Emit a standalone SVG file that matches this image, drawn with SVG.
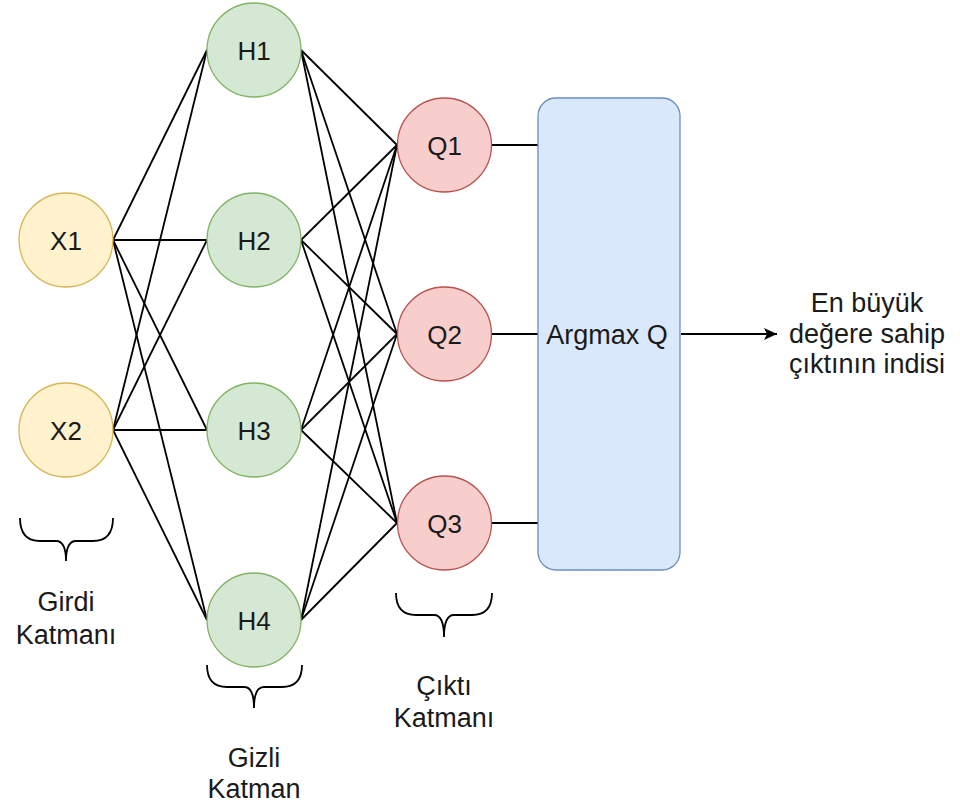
<svg xmlns="http://www.w3.org/2000/svg" width="960" height="809" viewBox="0 0 960 809">
<defs>
<style>
text{font-family:"Liberation Sans",Arial,sans-serif;font-size:27px;fill:#1a1a1a;text-anchor:middle}
.n{font-size:26px}
.x{fill:#fff2cc;stroke:#d6b656;stroke-width:1.3}
.h{fill:#d5e8d4;stroke:#82b366;stroke-width:1.3}
.q{fill:#f8cecc;stroke:#b85450;stroke-width:1.3}
.e line{stroke:#000;stroke-width:1.8;fill:none}
.br{stroke:#000;stroke-width:1.8;fill:none}
</style>
<marker id="ah" markerWidth="14" markerHeight="12" refX="13" refY="6" orient="auto" markerUnits="userSpaceOnUse">
<path d="M0,0 L13,6 L0,12 L3,6 Z" fill="#000"/>
</marker>
</defs>
<rect width="960" height="809" fill="#fff"/>
<g id="connectors" class="e">
<line x1="113" y1="240" x2="207" y2="50"/>
<line x1="113" y1="240" x2="207" y2="240"/>
<line x1="113" y1="240" x2="207" y2="430"/>
<line x1="113" y1="240" x2="207" y2="620"/>
<line x1="113" y1="430" x2="207" y2="50"/>
<line x1="113" y1="430" x2="207" y2="240"/>
<line x1="113" y1="430" x2="207" y2="430"/>
<line x1="113" y1="430" x2="207" y2="620"/>
<line x1="301" y1="50" x2="397" y2="145"/>
<line x1="301" y1="50" x2="397" y2="334"/>
<line x1="301" y1="50" x2="397" y2="523"/>
<line x1="301" y1="240" x2="397" y2="145"/>
<line x1="301" y1="240" x2="397" y2="334"/>
<line x1="301" y1="240" x2="397" y2="523"/>
<line x1="301" y1="430" x2="397" y2="145"/>
<line x1="301" y1="430" x2="397" y2="334"/>
<line x1="301" y1="430" x2="397" y2="523"/>
<line x1="301" y1="620" x2="397" y2="145"/>
<line x1="301" y1="620" x2="397" y2="334"/>
<line x1="301" y1="620" x2="397" y2="523"/>
<line x1="492" y1="145" x2="538" y2="145"/>
<line x1="492" y1="334" x2="538" y2="334"/>
<line x1="492" y1="523" x2="538" y2="523"/>
<line x1="681" y1="334" x2="777" y2="334" marker-end="url(#ah)"/>
</g>
<g id="X1"><circle class="x" cx="66" cy="240" r="47"/><text class="n" x="66" y="250">X1</text></g>
<g id="X2"><circle class="x" cx="66" cy="430" r="47"/><text class="n" x="66" y="440">X2</text></g>
<g id="H1"><circle class="h" cx="254" cy="50" r="47"/><text class="n" x="254" y="60">H1</text></g>
<g id="H2"><circle class="h" cx="254" cy="240" r="47"/><text class="n" x="254" y="250">H2</text></g>
<g id="H3"><circle class="h" cx="254" cy="430" r="47"/><text class="n" x="254" y="440">H3</text></g>
<g id="H4"><circle class="h" cx="254" cy="620" r="47"/><text class="n" x="254" y="630">H4</text></g>
<g id="Q1"><circle class="q" cx="444.5" cy="145" r="47"/><text class="n" x="444.5" y="155">Q1</text></g>
<g id="Q2"><circle class="q" cx="444.5" cy="334" r="47"/><text class="n" x="444.5" y="344">Q2</text></g>
<g id="Q3"><circle class="q" cx="444.5" cy="523" r="47"/><text class="n" x="444.5" y="533">Q3</text></g>
<g id="argmax"><rect x="538" y="98" width="142" height="472" rx="18" fill="#dae8fc" stroke="#6c8ebf" stroke-width="1.3"/><text x="607" y="344">Argmax Q</text></g>
<g id="output"><text x="867" y="312">En büyük</text><text x="867" y="343">değere sahip</text><text x="867" y="373">çıktının indisi</text></g>
<g id="brace-girdi">
<path class="br" d="M20,518 Q20,541 40,541 L56,541 Q66,541 66,561 Q66,541 76,541 L93,541 Q113,541 113,518"/>
<text x="66" y="611">Girdi</text><text x="66" y="644">Katmanı</text>
</g>
<g id="brace-gizli">
<path class="br" d="M207,665 Q207,687 227,687 L244,687 Q254,687 254,708 Q254,687 264,687 L282,687 Q302,687 302,665"/>
<text x="254" y="767">Gizli</text><text x="254" y="798">Katman</text>
</g>
<g id="brace-cikti">
<path class="br" d="M396,593 Q396,615 416,615 L434,615 Q444,615 444,637 Q444,615 454,615 L472,615 Q492,615 492,593"/>
<text x="444" y="695">Çıktı</text><text x="444" y="727">Katmanı</text>
</g>
</svg>
